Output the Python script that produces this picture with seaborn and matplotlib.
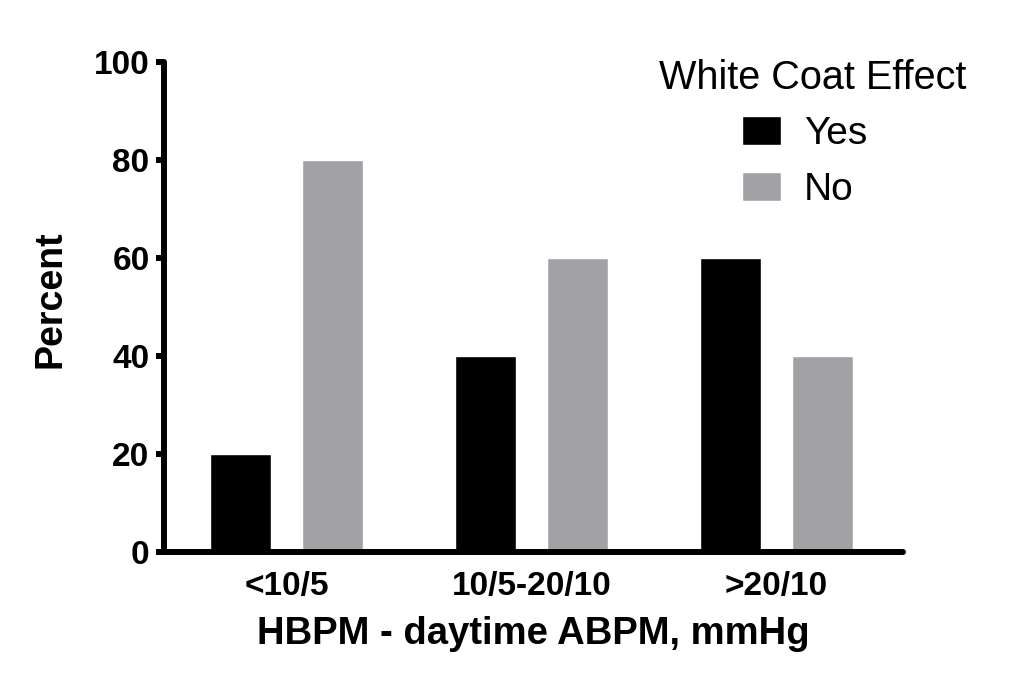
import matplotlib
matplotlib.use("Agg")
import matplotlib.pyplot as plt
import seaborn as sns
import pandas as pd

categories = ["<10/5", "10/5-20/10", ">20/10"]
yes_values = [20, 40, 60]
no_values = [80, 60, 40]
series_names = ["Yes", "No"]
y_ticks = [0, 20, 40, 60, 80, 100]

df = pd.DataFrame({
    "range": categories * 2,
    "percent": yes_values + no_values,
    "effect": [series_names[0]] * 3 + [series_names[1]] * 3,
})

sns.set_theme(style="white")
plt.rcParams["font.family"] = ["Liberation Sans", "DejaVu Sans"]
plt.rcParams["text.color"] = "black"
plt.rcParams["axes.labelcolor"] = "black"
plt.rcParams["xtick.color"] = "black"
plt.rcParams["ytick.color"] = "black"

fig = plt.figure(figsize=(10.24, 6.88), dpi=100)
ax = fig.add_axes([163.5 / 1024, 1 - 552 / 688, (903 - 163.5) / 1024, (552 - 62) / 688])

sns.barplot(data=df, x="range", y="percent", hue="effect", order=categories,
            hue_order=series_names, palette=["#000000", "#A2A1A5"],
            saturation=1, width=0.75, gap=0.336, ax=ax, legend=True)

ax.set_xlim(-0.502, 2.516)
ax.set_ylim(0, 100)
ax.set_yticks(y_ticks)
ax.set_yticklabels([str(v) for v in y_ticks])

for side in ["top", "right"]:
    ax.spines[side].set_visible(False)
for side in ["left", "bottom"]:
    ax.spines[side].set_linewidth(4.3)
    ax.spines[side].set_color("black")
    ax.spines[side].set_capstyle("round")

ax.tick_params(axis="y", which="major", left=True, length=6, width=4.3, color="black",
               labelcolor="black", direction="out", pad=4, labelsize=24)
ax.tick_params(axis="x", length=0, pad=14, labelsize=24, labelcolor="black")
for lbl in ax.get_xticklabels() + ax.get_yticklabels():
    lbl.set_fontweight("bold")

ax.set_xlabel("HBPM - daytime ABPM, mmHg", fontsize=27.5, fontweight="bold",
              labelpad=10, color="black")
ax.set_ylabel("Percent", fontsize=27, fontweight="bold", color="black")
ax.yaxis.set_label_coords(-0.128, 0.516)

handles, labels = ax.get_legend_handles_labels()
leg = ax.legend(handles, labels, frameon=False,
                loc="center left", bbox_to_anchor=(742 / 1024, 1 - 162 / 688),
                bbox_transform=fig.transFigure,
                fontsize=28, handlelength=1.0, handleheight=0.77,
                handletextpad=0.6, labelspacing=0.5, borderpad=0, borderaxespad=0)
for t in leg.get_texts():
    t.set_color("black")
fig.text(813 / 1024, 1 - 89 / 688, "White Coat Effect", fontsize=28.5,
         ha="center", va="baseline", color="black")

fig.savefig("out.png", dpi=100)
